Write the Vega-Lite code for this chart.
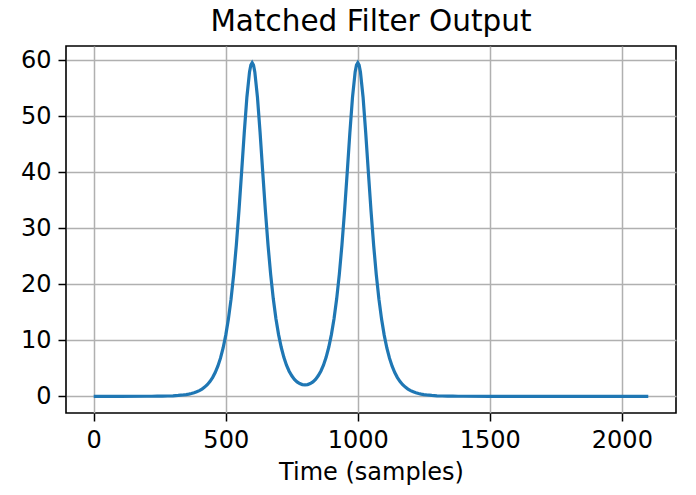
{
  "$schema": "https://vega.github.io/schema/vega-lite/v6.json",
  "width": 610,
  "height": 367,
  "autosize": {"type": "none"},
  "padding": {"left": 66, "top": 46, "right": 20, "bottom": 82},
  "background": "#ffffff",
  "title": {"text": "Matched Filter Output", "fontSize": 29.5, "font": "DejaVu Sans", "fontWeight": "normal", "color": "#000000", "offset": 9},
  "config": {
    "font": "DejaVu Sans",
    "view": {"stroke": "#000000", "strokeWidth": 1.6},
    "axis": {
      "domain": false,
      "grid": true,
      "gridColor": "#b0b0b0",
      "gridWidth": 1.5,
      "tickColor": "#000000",
      "tickSize": 8,
      "tickWidth": 1.5,
      "labelFont": "DejaVu Sans",
      "labelFontSize": 24,
      "labelColor": "#000000",
      "labelPadding": 7,
      "titleFont": "DejaVu Sans",
      "titleFontSize": 24,
      "titleFontWeight": "normal",
      "titleColor": "#000000"
    }
  },
  "data": {"values": [
    {"t": 0, "v": 0}, {"t": 100, "v": 0.0008}, {"t": 200, "v": 0.0087}, {"t": 220, "v": 0.014}, {"t": 240, "v": 0.0226}, {"t": 260, "v": 0.0364}, {"t": 280, "v": 0.0586}, {"t": 300, "v": 0.0943}, {"t": 320, "v": 0.152}, {"t": 340, "v": 0.244}, {"t": 350, "v": 0.31}, {"t": 360, "v": 0.393}, {"t": 370, "v": 0.499}, {"t": 380, "v": 0.633}, {"t": 390, "v": 0.803}, {"t": 400, "v": 1.019}, {"t": 410, "v": 1.293}, {"t": 420, "v": 1.64}, {"t": 430, "v": 2.08}, {"t": 440, "v": 2.64}, {"t": 450, "v": 3.35}, {"t": 460, "v": 4.25}, {"t": 470, "v": 5.38}, {"t": 480, "v": 6.82}, {"t": 490, "v": 8.64}, {"t": 500, "v": 10.93}, {"t": 510, "v": 13.79}, {"t": 520, "v": 17.36}, {"t": 530, "v": 21.74}, {"t": 540, "v": 27.01}, {"t": 550, "v": 33.18}, {"t": 560, "v": 40.03}, {"t": 570, "v": 47.07}, {"t": 580, "v": 53.43}, {"t": 590, "v": 57.95}, {"t": 595, "v": 59.18}, {"t": 600, "v": 59.6}, {"t": 605, "v": 59.18},
    {"t": 610, "v": 57.96}, {"t": 620, "v": 53.44}, {"t": 630, "v": 47.09}, {"t": 640, "v": 40.05}, {"t": 650, "v": 33.21}, {"t": 660, "v": 27.05}, {"t": 670, "v": 21.79}, {"t": 680, "v": 17.42}, {"t": 690, "v": 13.86}, {"t": 700, "v": 11.02}, {"t": 710, "v": 8.76}, {"t": 720, "v": 6.97}, {"t": 730, "v": 5.57}, {"t": 740, "v": 4.49}, {"t": 750, "v": 3.66}, {"t": 760, "v": 3.03}, {"t": 770, "v": 2.58}, {"t": 780, "v": 2.27}, {"t": 790, "v": 2.1}, {"t": 800, "v": 2.04}, {"t": 810, "v": 2.1}, {"t": 820, "v": 2.27}, {"t": 830, "v": 2.58}, {"t": 840, "v": 3.03}, {"t": 850, "v": 3.66}, {"t": 860, "v": 4.49}, {"t": 870, "v": 5.57}, {"t": 880, "v": 6.97}, {"t": 890, "v": 8.76}, {"t": 900, "v": 11.02}, {"t": 910, "v": 13.86}, {"t": 920, "v": 17.42}, {"t": 930, "v": 21.79}, {"t": 940, "v": 27.05}, {"t": 950, "v": 33.21}, {"t": 960, "v": 40.05}, {"t": 970, "v": 47.09}, {"t": 980, "v": 53.44}, {"t": 990, "v": 57.96}, {"t": 995, "v": 59.18}, {"t": 1000, "v": 59.6}, {"t": 1005, "v": 59.18},
    {"t": 1010, "v": 57.95}, {"t": 1020, "v": 53.43}, {"t": 1030, "v": 47.07}, {"t": 1040, "v": 40.03}, {"t": 1050, "v": 33.18}, {"t": 1060, "v": 27.01}, {"t": 1070, "v": 21.74}, {"t": 1080, "v": 17.36}, {"t": 1090, "v": 13.79}, {"t": 1100, "v": 10.93}, {"t": 1110, "v": 8.64}, {"t": 1120, "v": 6.82}, {"t": 1130, "v": 5.38}, {"t": 1140, "v": 4.25}, {"t": 1150, "v": 3.35}, {"t": 1160, "v": 2.64}, {"t": 1170, "v": 2.08}, {"t": 1180, "v": 1.64}, {"t": 1190, "v": 1.293}, {"t": 1200, "v": 1.019}, {"t": 1210, "v": 0.803}, {"t": 1220, "v": 0.633}, {"t": 1230, "v": 0.499}, {"t": 1240, "v": 0.393}, {"t": 1250, "v": 0.31}, {"t": 1260, "v": 0.244}, {"t": 1280, "v": 0.152}, {"t": 1300, "v": 0.0943}, {"t": 1320, "v": 0.0586}, {"t": 1340, "v": 0.0364}, {"t": 1360, "v": 0.0226}, {"t": 1380, "v": 0.014}, {"t": 1400, "v": 0.0087}, {"t": 1500, "v": 0.0008}, {"t": 1600, "v": 0.0001}, {"t": 2100, "v": 0}
  ]},
  "mark": {"type": "line", "color": "#1f77b4", "strokeWidth": 3.2, "clip": true},
  "encoding": {
    "x": {
      "field": "t", "type": "quantitative",
      "scale": {"domain": [-105, 2205], "nice": false, "zero": false},
      "axis": {"values": [0, 500, 1000, 1500, 2000], "format": "d", "title": "Time (samples)", "titlePadding": 8, "labelFlush": false}
    },
    "y": {
      "field": "v", "type": "quantitative",
      "scale": {"domain": [-2.98, 62.58], "nice": false, "zero": false},
      "axis": {"values": [0, 10, 20, 30, 40, 50, 60], "format": "d", "title": null}
    }
  }
}
